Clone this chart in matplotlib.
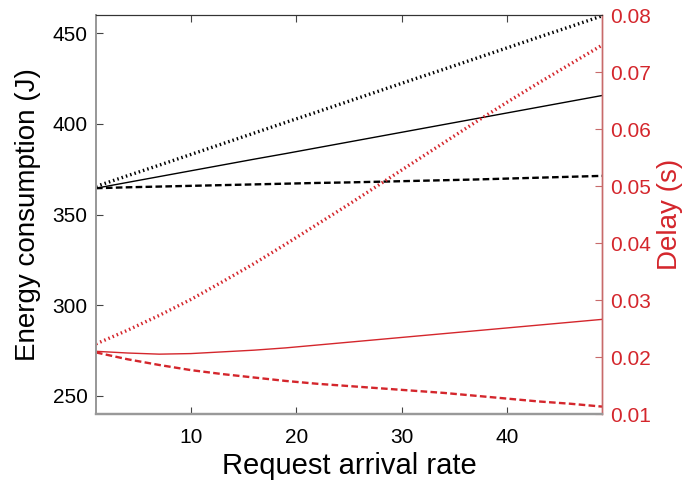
import matplotlib
matplotlib.use("Agg")
import matplotlib.pyplot as plt

# ---- data ----
rate = [1, 4, 7, 10, 13, 16, 19, 22, 25, 28, 31, 34, 37, 40, 43, 46, 49]

energy_dotted = [365.5, 371.4, 377.2, 383.1, 389.0, 394.9, 400.8, 406.6, 412.5,
                 418.4, 424.3, 430.1, 436.0, 441.9, 447.8, 453.6, 459.5]
energy_solid = [364.5, 367.7, 370.9, 374.1, 377.3, 380.5, 383.6, 386.8, 390.0,
                393.2, 396.4, 399.6, 402.8, 406.0, 409.2, 412.4, 415.6]
energy_dashed = [364.5, 365.0, 365.4, 365.8, 366.2, 366.6, 367.0, 367.4, 367.7,
                 368.1, 368.5, 368.9, 369.3, 369.8, 370.3, 370.8, 371.3]

delay_dotted = [0.0223, 0.0247, 0.0273, 0.0301, 0.0332, 0.0364, 0.0398, 0.0433, 0.0468,
                0.0504, 0.0540, 0.0576, 0.0612, 0.0647, 0.0681, 0.0714, 0.0747]
delay_solid = [0.0210, 0.0207, 0.0205, 0.0206, 0.0209, 0.0212, 0.0216, 0.0221, 0.0226,
               0.0231, 0.0236, 0.0241, 0.0246, 0.0251, 0.0256, 0.0261, 0.0266]
delay_dashed = [0.0208, 0.0196, 0.0186, 0.0177, 0.0170, 0.0164, 0.0158, 0.0153, 0.0149,
                0.0145, 0.0141, 0.0137, 0.0132, 0.0127, 0.0122, 0.0118, 0.0113]

x_ticks = [10, 20, 30, 40]
left_ticks = [250, 300, 350, 400, 450]
right_ticks = [0.01, 0.02, 0.03, 0.04, 0.05, 0.06, 0.07, 0.08]

RED = "#d4262c"

plt.rcParams["font.family"] = ["Liberation Sans", "DejaVu Sans"]

fig = plt.figure(figsize=(6.88, 4.90), dpi=100)
ax = fig.add_axes([96 / 688, 76 / 490, (602 - 96) / 688, (414 - 15) / 490])
ax2 = ax.twinx()

dot = (0, (0.45, 0.9))
dash = (0, (2.8, 1.4))

ax.plot(rate, energy_dotted, color="black", lw=2.4, linestyle=dot)
ax.plot(rate, energy_solid, color="black", lw=1.0, linestyle="-")
ax.plot(rate, energy_dashed, color="black", lw=1.7, linestyle=dash)

ax2.plot(rate, delay_dotted, color=RED, lw=2.4, linestyle=dot)
ax2.plot(rate, delay_solid, color=RED, lw=1.0, linestyle="-")
ax2.plot(rate, delay_dashed, color=RED, lw=1.7, linestyle=dash)

ax.set_xlim(1, 49)
ax.set_ylim(240, 460)
ax2.set_ylim(0.01, 0.08)

ax.set_xticks(x_ticks)
ax.set_yticks(left_ticks)
ax2.set_yticks(right_ticks)
ax2.set_yticklabels([f"{v:.2f}" for v in right_ticks])

ax.tick_params(axis="both", direction="in", labelsize=15, length=5, width=0.8,
               colors="#444444", labelcolor="black", top=True)
ax.tick_params(axis="y", pad=6)
ax.tick_params(axis="x", pad=10)
ax2.tick_params(axis="y", direction="in", labelsize=15, length=5, width=0.8,
                colors="#c86a6a", labelcolor=RED, pad=6)

for a in (ax, ax2):
    a.spines["left"].set_color("#999999")
    a.spines["left"].set_linewidth(1.4)
    a.spines["bottom"].set_color("#999999")
    a.spines["bottom"].set_linewidth(1.6)
    a.spines["top"].set_color("#333333")
    a.spines["top"].set_linewidth(0.8)
    a.spines["right"].set_color("#c86a6a")
    a.spines["right"].set_linewidth(1.0)

ax.set_xlabel("Request arrival rate", fontsize=21, labelpad=4)
ax.set_ylabel("Energy consumption (J)", fontsize=20, labelpad=8)
ax2.set_ylabel("Delay (s)", fontsize=20, color=RED, labelpad=4)

fig.savefig("out.png", dpi=100)
